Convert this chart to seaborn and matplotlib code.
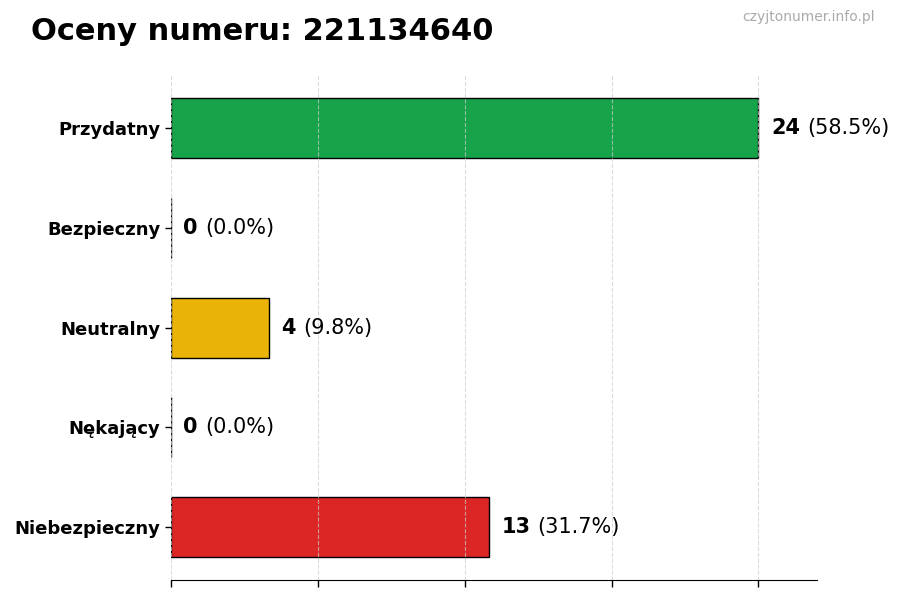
import matplotlib
matplotlib.use("Agg")
import matplotlib.pyplot as plt
import seaborn as sns

# ── Data ─────────────────────────────────────────────────
phone_number = "221134640"
categories = ["Przydatny", "Bezpieczny", "Neutralny", "Nękający", "Niebezpieczny"]
counts = [24, 0, 4, 0, 13]
bar_colors = ["#16a34a", "#9ca3af", "#eab308", "#f97316", "#dc2626"]

total = sum(counts)
percents = [100 * c / total if total else 0 for c in counts]

# ── Figure ───────────────────────────────────────────────
sns.set_style("white")
plt.rcParams["font.family"] = ["DejaVu Sans"]
plt.rcParams["text.color"] = "black"
plt.rcParams["xtick.color"] = "black"
plt.rcParams["ytick.color"] = "black"

fig = plt.figure(figsize=(9, 6), dpi=100)
ax = fig.add_axes([0.19, 0.033, 0.718, 0.842])

sns.barplot(x=counts, y=categories, hue=categories, palette=bar_colors,
            saturation=1, legend=False, orient="h", width=0.6,
            edgecolor="black", linewidth=1, ax=ax, zorder=2)

xmax = max(counts) * 1.1
ax.set_xlim(0, xmax)
ax.set_ylim(len(categories) - 0.47, -0.53)
ax.set_xticks([0, 6, 12, 18, 24])
ax.set_xticklabels([])
ax.set_xlabel("")
ax.set_ylabel("")
ax.grid(axis="x", linestyle="--", color="#cccccc", alpha=0.7, linewidth=0.8, zorder=3)
ax.set_axisbelow(False)
for side in ["top", "right", "left"]:
    ax.spines[side].set_visible(False)
ax.spines["bottom"].set_color("black")
ax.tick_params(axis="x", bottom=True, length=5, width=1, color="black")
ax.tick_params(axis="y", left=True, length=4, width=1, color="black",
               labelsize=13, labelcolor="black")
for lbl in ax.get_yticklabels():
    lbl.set_fontweight("bold")

# value labels: bold count + normal percent
fig.canvas.draw()
renderer = fig.canvas.get_renderer()
for i, (c, p) in enumerate(zip(counts, percents)):
    t = ax.annotate(f"{c}", xy=(c, i), xytext=(9, 0), textcoords="offset points",
                    ha="left", va="center", fontsize=15, fontweight="bold",
                    color="black")
    bb = t.get_window_extent(renderer=renderer)
    x_end = ax.transData.inverted().transform((bb.x1, 0))[0]
    ax.annotate(f"({p:.1f}%)", xy=(x_end, i), xytext=(5, 0), textcoords="offset points",
                ha="left", va="center", fontsize=15, color="black")

fig.text(0.034, 0.948, f"Oceny numeru: {phone_number}", fontsize=22,
         fontweight="bold", ha="left", va="center", color="black")
fig.text(0.972, 0.971, "czyjtonumer.info.pl", fontsize=10, color="#aaaaaa",
         ha="right", va="center")

fig.savefig("out.png", dpi=100)
plt.close("all")
